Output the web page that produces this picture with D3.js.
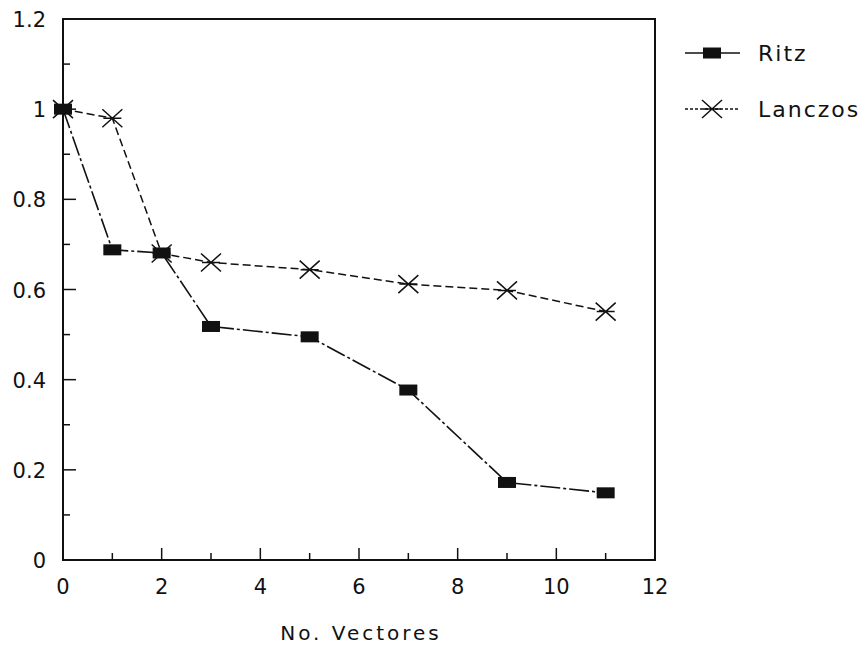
<!DOCTYPE html>
<html>
<head>
<meta charset="utf-8">
<script src="https://cdn.jsdelivr.net/npm/d3@7"></script>
<style>
  body { margin: 0; background: #fff; }
  text { font-family: "DejaVu Sans", sans-serif; fill: #111; }
</style>
</head>
<body>
<svg id="chart"></svg>
<script>
// data
var vectores = [0, 1, 2, 3, 5, 7, 9, 11];
var ritz = [1.0, 0.688, 0.681, 0.518, 0.495, 0.377, 0.172, 0.149];
var lanczos = [1.0, 0.98, 0.68, 0.66, 0.644, 0.612, 0.598, 0.551];
var xTicks = [0, 2, 4, 6, 8, 10, 12];
var yTicks = [0, 0.2, 0.4, 0.6, 0.8, 1, 1.2];
var seriesNames = ['Ritz', 'Lanczos'];

var width = 866, height = 648;
var margin = { left: 63, top: 19, right: 211, bottom: 88 };

var svg = d3.select('#chart').attr('width', width).attr('height', height);

var x = d3.scaleLinear().domain([0, 12]).range([margin.left, width - margin.right]);
var y = d3.scaleLinear().domain([0, 1.2]).range([height - margin.bottom, margin.top]);

// frame
svg.append('rect')
  .attr('x', x(0)).attr('y', y(1.2))
  .attr('width', x(12) - x(0)).attr('height', y(0) - y(1.2))
  .attr('fill', 'none').attr('stroke', '#111').attr('stroke-width', 2);

// x axis: inner ticks, long at even values
var xAxis = svg.append('g');
xAxis.selectAll('line')
  .data(d3.range(1, 12))
  .enter().append('line')
  .attr('x1', function(d) { return x(d); })
  .attr('x2', function(d) { return x(d); })
  .attr('y1', y(0))
  .attr('y2', function(d) { return y(0) - (d % 2 === 0 ? 12 : 7); })
  .attr('stroke', '#111').attr('stroke-width', 1.5);
xAxis.selectAll('text')
  .data(xTicks)
  .enter().append('text')
  .attr('x', function(d) { return x(d); })
  .attr('y', y(0) + 34)
  .attr('text-anchor', 'middle')
  .attr('font-size', 21)
  .text(function(d) { return d; });

// y axis
var yAxis = svg.append('g');
yAxis.selectAll('line')
  .data(d3.range(1, 12).map(function(i) { return i / 10; }))
  .enter().append('line')
  .attr('x1', x(0))
  .attr('x2', function(d, i) { return x(0) + ((i + 1) % 2 === 0 ? 13 : 7); })
  .attr('y1', function(d) { return y(d); })
  .attr('y2', function(d) { return y(d); })
  .attr('stroke', '#111').attr('stroke-width', 1.5);
yAxis.selectAll('text')
  .data(yTicks)
  .enter().append('text')
  .attr('x', 46)
  .attr('y', function(d) { return y(d) + 8; })
  .attr('text-anchor', 'end')
  .attr('font-size', 21)
  .text(function(d) { return d; });

svg.append('text')
  .attr('x', 361).attr('y', 640)
  .attr('text-anchor', 'middle')
  .attr('font-size', 20)
  .attr('letter-spacing', 3)
  .text('No. Vectores');

var line = d3.line()
  .x(function(d) { return x(d[0]); })
  .y(function(d) { return y(d[1]); });

var ritzPts = vectores.map(function(v, i) { return [v, ritz[i]]; });
var lanczosPts = vectores.map(function(v, i) { return [v, lanczos[i]]; });

svg.append('path')
  .attr('d', line(lanczosPts))
  .attr('fill', 'none').attr('stroke', '#111').attr('stroke-width', 1.5)
  .attr('stroke-dasharray', '8,4');

svg.append('path')
  .attr('d', line(ritzPts))
  .attr('fill', 'none').attr('stroke', '#111').attr('stroke-width', 1.6)
  .attr('stroke-dasharray', '20,3,3,3');

function star(g, cx, cy) {
  g.append('path')
    .attr('d', 'M' + (cx - 10) + ',' + (cy - 9) + 'L' + (cx + 10) + ',' + (cy + 9) +
               'M' + (cx - 10) + ',' + (cy + 9) + 'L' + (cx + 10) + ',' + (cy - 9) +
               'M' + (cx - 9) + ',' + cy + 'L' + (cx + 9) + ',' + cy)
    .attr('stroke', '#111').attr('stroke-width', 1.5).attr('fill', 'none');
}
function box(g, cx, cy) {
  g.append('rect')
    .attr('x', cx - 9).attr('y', cy - 5.5)
    .attr('width', 18).attr('height', 11)
    .attr('fill', '#111');
}

var marks = svg.append('g');
lanczosPts.forEach(function(p) { star(marks, x(p[0]), y(p[1])); });
ritzPts.forEach(function(p) { box(marks, x(p[0]), y(p[1])); });

// legend
var legend = svg.append('g');
var legY = [53, 109];
seriesNames.forEach(function(name, i) {
  legend.append('line')
    .attr('x1', 685).attr('x2', 740)
    .attr('y1', legY[i]).attr('y2', legY[i])
    .attr('stroke', '#111').attr('stroke-width', 1.5)
    .attr('stroke-dasharray', i === 0 ? null : '3,2');
  if (i === 0) box(legend, 712, legY[i]); else star(legend, 712, legY[i]);
  legend.append('text')
    .attr('x', 758).attr('y', legY[i] + 8)
    .attr('font-size', 22)
    .attr('letter-spacing', 2)
    .text(name);
});
</script>
</body>
</html>
